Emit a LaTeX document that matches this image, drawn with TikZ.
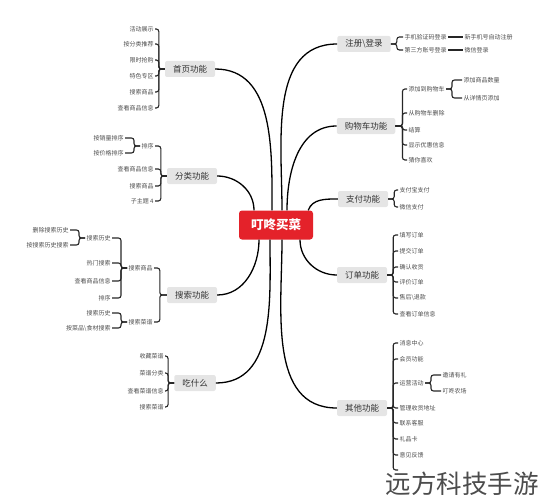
\documentclass[tikz,border=0pt]{standalone}
\usepackage{fontspec}
\setmainfont{Noto Sans CJK SC}
\usepackage{xcolor}
\definecolor{ddred}{RGB}{228,34,42}
\tikzstyle{mainidea} = [rectangle, rounded corners=3pt, fill=ddred, text=white,
minimum width=74pt, minimum height=29pt, inner sep=0pt,
font=\fontsize{12.5}{13}\selectfont\bfseries]
\tikzstyle{topic} = [rectangle, rounded corners=2pt, fill=black!10, text=black!80,
inner xsep=8pt, inner ysep=0pt, minimum height=16pt,
font=\fontsize{8.5}{9}\selectfont]
\tikzstyle{detail} = [inner sep=1.3pt, text=black!70, font=\fontsize{6}{7}\selectfont]
\tikzstyle{trunk} = [line width=1.3pt, black]
\tikzstyle{brace} = [line width=1.1pt, black!85, rounded corners=2.5pt]
\tikzstyle{watermark} = [inner sep=0pt, text=black!70, font=\fontsize{25.5}{27}\selectfont]
\newcommand{\lbranch}[3][6]{ %
  % join parent #2 to all children #3 lying on its left
  \foreach \x in {#3} { %
    \draw[brace] (#2.west) -- ++(-#1,0) |- (\x.east) ;%
  } ;
}
\newcommand{\rbranch}[3][6]{ %
  % join parent #2 to all children #3 lying on its right
  \foreach \x in {#3} { %
    \draw[brace] (#2.east) -- ++(#1,0) |- (\x.west) ;%
  } ;
}

\begin{document}
\begin{tikzpicture}[x=1pt,y=1pt]
    \useasboundingbox (0,0) rectangle (540,-500);
    \node[mainidea](root) at (276,-225) {叮咚买菜};
    % first level
    \node[topic](sy) at (190,-69) {首页功能};
    \node[topic](zc) at (364,-44) {注册\textbackslash 登录};
    \node[topic](gw) at (366,-126) {购物车功能};
    \node[topic](fl) at (192,-176) {分类功能};
    \node[topic](zf) at (363,-199) {支付功能};
    \node[topic](ss) at (192,-295) {搜索功能};
    \node[topic](dd) at (362,-275) {订单功能};
    \node[topic](cs) at (195,-383) {吃什么};
    \node[topic](qt) at (362,-408) {其他功能};
    \draw[trunk] ([xshift=-4]root.north) to[out=90,in=0] (sy.east);
    \draw[trunk] ([xshift=-22]root.north) to[out=90,in=0] (fl.east);
    \draw[trunk] ([xshift=6]root.north) to[out=90,in=180] (zc.west);
    \draw[trunk] ([xshift=11]root.north) to[out=90,in=180] (gw.west);
    \draw[trunk] ([xshift=-5]root.north east) to[out=70,in=180] (zf.west);
    \draw[trunk] ([xshift=-17]root.south) to[out=-90,in=0] (ss.east);
    \draw[trunk] ([xshift=-6]root.south) to[out=-90,in=0] (cs.east);
    \draw[trunk] ([xshift=24]root.south) to[out=-90,in=180] (dd.west);
    \draw[trunk] ([xshift=6]root.south) to[out=-90,in=180] (qt.west);
    % 首页功能
    \node[detail, anchor=east](sy1) at (155,-29) {活动展示};
    \node[detail, anchor=east](sy2) at (155,-44) {按分类推荐};
    \node[detail, anchor=east](sy3) at (155,-60) {限时抢购};
    \node[detail, anchor=east](sy4) at (155,-76) {特色专区};
    \node[detail, anchor=east](sy5) at (155,-92) {搜索商品};
    \node[detail, anchor=east](sy6) at (155,-108) {查看商品信息};
    \lbranch{sy}{sy1,sy2,sy3,sy4,sy5,sy6}
    % 注册\登录
    \node[detail, anchor=west](zc1) at (403,-37) {手机验证码登录};
    \node[detail, anchor=west](zc2) at (403,-50) {第三方账号登录};
    \node[detail, anchor=west](zc1a) at (463,-37) {新手机号自动注册};
    \node[detail, anchor=west](zc2a) at (463,-50) {微信登录};
    \rbranch{zc}{zc1,zc2}
    \draw[brace] (zc1) -- (zc1a);
    \draw[brace] (zc2) -- (zc2a);
    % 购物车功能
    \node[detail, anchor=west](gw1) at (407,-89) {添加到购物车};
    \node[detail, anchor=west](gw2) at (407,-113) {从购物车删除};
    \node[detail, anchor=west](gw3) at (407,-130) {结算};
    \node[detail, anchor=west](gw4) at (407,-145) {显示优惠信息};
    \node[detail, anchor=west](gw5) at (407,-160) {猜你喜欢};
    \node[detail, anchor=west](gw1a) at (462,-80) {添加商品数量};
    \node[detail, anchor=west](gw1b) at (462,-98) {从详情页添加};
    \rbranch[7]{gw}{gw1,gw2,gw3,gw4,gw5}
    \rbranch{gw1}{gw1a,gw1b}
    % 分类功能
    \node[detail, anchor=east](fl1) at (155,-146) {排序};
    \node[detail, anchor=east](fl2) at (155,-169) {查看商品信息};
    \node[detail, anchor=east](fl3) at (155,-186) {搜索商品};
    \node[detail, anchor=east](fl4) at (155,-201) {子主题 4};
    \node[detail, anchor=east](fl1a) at (125,-138) {按销量排序};
    \node[detail, anchor=east](fl1b) at (125,-153) {按价格排序};
    \lbranch{fl}{fl1,fl2,fl3,fl4}
    \lbranch{fl1}{fl1a,fl1b}
    % 支付功能
    \node[detail, anchor=west](zf1) at (398,-190) {支付宝支付};
    \node[detail, anchor=west](zf2) at (398,-207) {微信支付};
    \rbranch{zf}{zf1,zf2}
    % 搜索功能
    \node[detail, anchor=east](ss1) at (154,-268) {搜索商品};
    \node[detail, anchor=east](ss2) at (154,-322) {搜索菜谱};
    \node[detail, anchor=east](ss1a) at (112,-238) {搜索历史};
    \node[detail, anchor=east](ss1b) at (112,-263) {热门搜索};
    \node[detail, anchor=east](ss1c) at (112,-281) {查看商品信息};
    \node[detail, anchor=east](ss1d) at (112,-298) {排序};
    \node[detail, anchor=east](ss1e) at (70,-230) {删除搜索历史};
    \node[detail, anchor=east](ss1f) at (70,-245) {按搜索历史搜索};
    \node[detail, anchor=east](ss2a) at (112,-313) {搜索历史};
    \node[detail, anchor=east](ss2b) at (112,-328) {按菜品\textbackslash 食材搜索};
    \lbranch[7]{ss}{ss1,ss2}
    \lbranch{ss1}{ss1a,ss1b,ss1c,ss1d}
    \lbranch{ss1a}{ss1e,ss1f}
    \lbranch{ss2}{ss2a,ss2b}
    % 订单功能
    \node[detail, anchor=west](dd1) at (398,-235) {填写订单};
    \node[detail, anchor=west](dd2) at (398,-251) {提交订单};
    \node[detail, anchor=west](dd3) at (398,-267) {确认收货};
    \node[detail, anchor=west](dd4) at (398,-282) {评价订单};
    \node[detail, anchor=west](dd5) at (398,-298) {售后\textbackslash 退款};
    \node[detail, anchor=west](dd6) at (398,-314) {查看订单信息};
    \rbranch{dd}{dd1,dd2,dd3,dd4,dd5,dd6}
    % 吃什么
    \node[detail, anchor=east](cs1) at (165,-356) {收藏菜谱};
    \node[detail, anchor=east](cs2) at (165,-373) {菜谱分类};
    \node[detail, anchor=east](cs3) at (165,-391) {查看菜谱信息};
    \node[detail, anchor=east](cs4) at (165,-407) {搜索菜谱};
    \lbranch{cs}{cs1,cs2,cs3,cs4}
    % 其他功能
    \node[detail, anchor=west](qt1) at (398,-343) {消息中心};
    \node[detail, anchor=west](qt2) at (398,-359) {会员功能};
    \node[detail, anchor=west](qt3) at (398,-383) {运营活动};
    \node[detail, anchor=west](qt4) at (398,-408) {管理收货地址};
    \node[detail, anchor=west](qt5) at (398,-423) {联系客服};
    \node[detail, anchor=west](qt6) at (398,-439) {礼品卡};
    \node[detail, anchor=west](qt7) at (398,-455) {意见反馈};
    \coordinate (qt8) at (398,-470);
    \node[detail, anchor=west](qt3a) at (441,-375) {邀请有礼};
    \node[detail, anchor=west](qt3b) at (441,-391) {叮咚农场};
    \rbranch{qt}{qt1,qt2,qt3,qt4,qt5,qt6,qt7,qt8}
    \rbranch{qt3}{qt3a,qt3b}
    \node[watermark, anchor=east](wm) at (539,-484) {远方科技手游};
\end{tikzpicture}
\end{document}
